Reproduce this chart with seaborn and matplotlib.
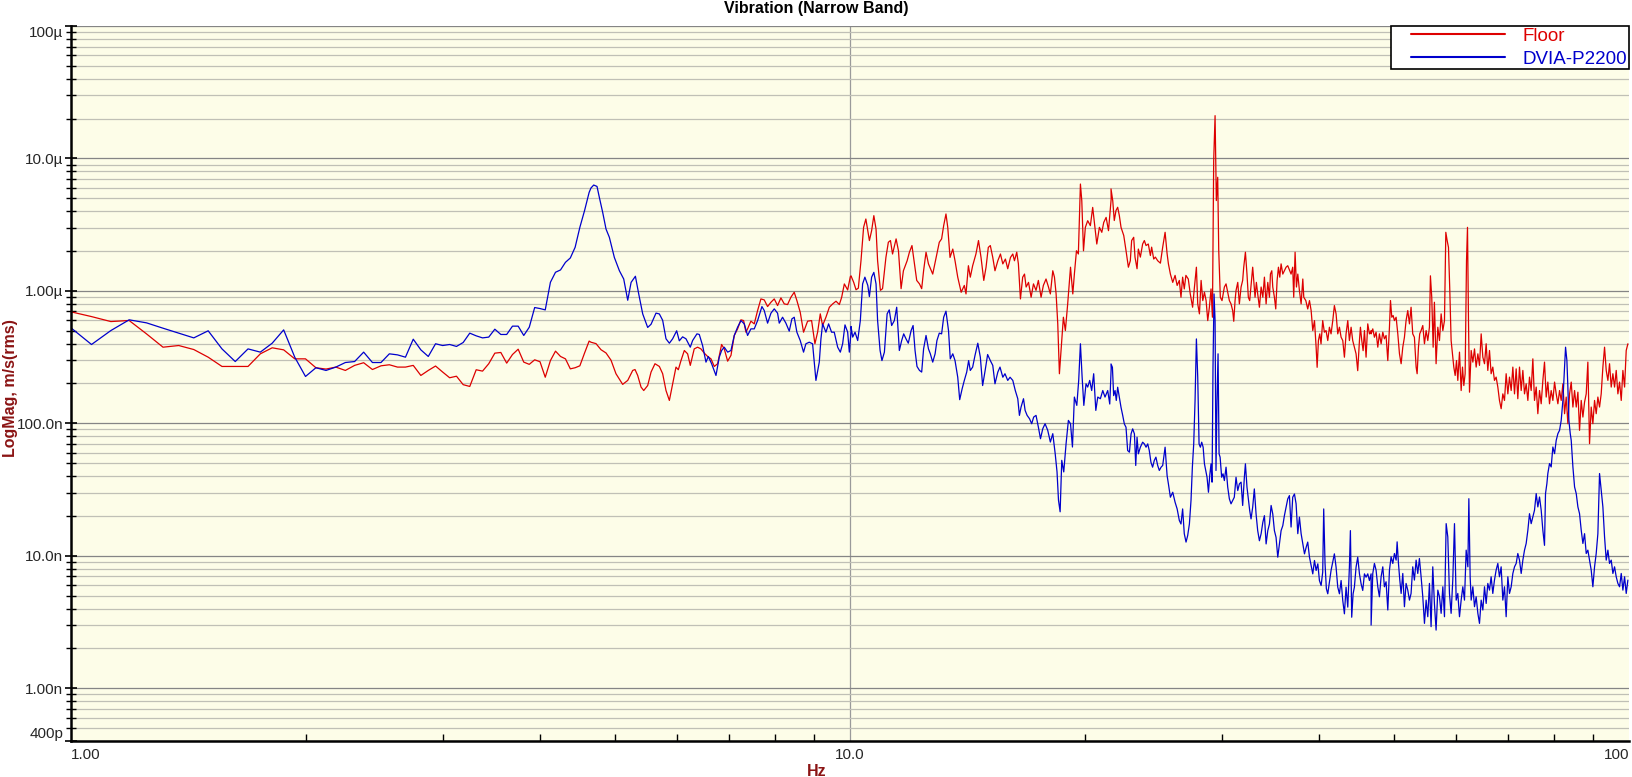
import numpy as np
import pandas as pd
import matplotlib
matplotlib.use('Agg')
import matplotlib.pyplot as plt
import seaborn as sns
from matplotlib.ticker import FixedLocator, LogLocator, NullFormatter
from matplotlib.legend_handler import HandlerLine2D
from matplotlib.lines import Line2D

# values, magnitudes in micro m/s (rms)

# 1 - 4.6 Hz, both traces on the same FFT bins
low_hz = [1.0, 1.0625, 1.125, 1.1875, 1.25, 1.3125, 1.375, 1.4375, 1.5, 1.5625,
          1.625, 1.6875, 1.75, 1.8125, 1.875, 1.9375, 2.0, 2.0625, 2.125, 2.1875,
          2.25, 2.3125, 2.375, 2.4375, 2.5, 2.5625, 2.625, 2.6875, 2.75, 2.8125,
          2.875, 2.9375, 3.0, 3.0625, 3.125, 3.1875, 3.25, 3.3125, 3.375, 3.4375,
          3.5, 3.5625, 3.625, 3.6875, 3.75, 3.8125, 3.875, 3.9375, 4.0, 4.0625,
          4.125, 4.1875, 4.25, 4.3125, 4.375, 4.4375, 4.5, 4.5625, 4.625]
floor_um_low = [0.695, 0.64, 0.587, 0.598, 0.474, 0.376, 0.387, 0.361, 0.316, 0.269,
                0.269, 0.269, 0.335, 0.372, 0.359, 0.307, 0.307, 0.263, 0.257, 0.266,
                0.251, 0.274, 0.287, 0.255, 0.272, 0.277, 0.266, 0.266, 0.274, 0.230,
                0.251, 0.271, 0.244, 0.221, 0.227, 0.196, 0.190, 0.254, 0.248, 0.282,
                0.339, 0.343, 0.285, 0.331, 0.363, 0.290, 0.279, 0.302, 0.292, 0.223,
                0.298, 0.351, 0.320, 0.307, 0.258, 0.263, 0.272, 0.339, 0.418]
dvia_um_low = [0.526, 0.394, 0.502, 0.605, 0.574, 0.523, 0.48, 0.442, 0.50, 0.365,
               0.293, 0.365, 0.345, 0.403, 0.508, 0.316, 0.226, 0.263, 0.251, 0.266,
               0.288, 0.293, 0.345, 0.288, 0.288, 0.335, 0.329, 0.316, 0.432, 0.359,
               0.320, 0.399, 0.387, 0.394, 0.381, 0.408, 0.48, 0.458, 0.442, 0.448,
               0.514, 0.469, 0.469, 0.542, 0.542, 0.461, 0.532, 0.749, 0.736, 0.719,
               1.162, 1.383, 1.44, 1.644, 1.773, 2.134, 3.02, 4.03, 5.54]

# 4.6 - 10 Hz
floor_hz_mid = [4.65, 4.72, 4.79, 4.862, 4.934, 5.007, 5.107, 5.184, 5.261, 5.297,
                5.339, 5.392, 5.435, 5.499, 5.554, 5.619, 5.692, 5.748, 5.805, 5.863,
                5.920, 5.979, 6.020, 6.068, 6.128, 6.188, 6.237, 6.310, 6.373, 6.436,
                6.501, 6.565, 6.630, 6.696, 6.762, 6.842, 6.896, 6.965, 7.034, 7.103,
                7.173, 7.244, 7.302, 7.352, 7.388, 7.461, 7.535, 7.610, 7.685, 7.761,
                7.838, 7.916, 7.994, 8.073, 8.153, 8.234, 8.315, 8.397, 8.480, 8.547,
                8.632, 8.717, 8.822, 8.927, 9.015, 9.087, 9.159, 9.222, 9.313, 9.408,
                9.501, 9.595, 9.690, 9.757, 9.834, 9.931, 10.01]
floor_um_mid = [0.41, 0.40, 0.36, 0.34, 0.30, 0.237, 0.197, 0.211, 0.251, 0.255,
                0.230, 0.188, 0.177, 0.193, 0.244, 0.282, 0.269, 0.237, 0.177, 0.149,
                0.199, 0.266, 0.254, 0.298, 0.355, 0.335, 0.274, 0.365, 0.376, 0.365,
                0.339, 0.32, 0.307, 0.269, 0.282, 0.394, 0.365, 0.295, 0.326, 0.461,
                0.517, 0.605, 0.597, 0.488, 0.517, 0.591, 0.564, 0.711, 0.87, 0.855,
                0.762, 0.821, 0.87, 0.775, 0.886, 0.798, 0.789, 0.896, 0.977, 0.846,
                0.69, 0.488, 0.591, 0.597, 0.399, 0.488, 0.671, 0.548, 0.633, 0.753,
                0.798, 0.836, 0.789, 0.896, 1.129, 1.017, 1.282]
dvia_hz_mid = [4.65, 4.688, 4.734, 4.767, 4.814, 4.862, 4.910, 4.983, 5.058, 5.123,
               5.184, 5.236, 5.303, 5.355, 5.419, 5.499, 5.554, 5.636, 5.692, 5.748,
               5.805, 5.863, 5.920, 5.991, 6.038, 6.097, 6.158, 6.237, 6.280, 6.361,
               6.405, 6.468, 6.533, 6.578, 6.643, 6.729, 6.795, 6.842, 6.896, 6.965,
               7.034, 7.103, 7.173, 7.244, 7.316, 7.388, 7.461, 7.535, 7.610, 7.708,
               7.761, 7.838, 7.916, 7.994, 8.073, 8.113, 8.193, 8.274, 8.356, 8.422,
               8.480, 8.547, 8.632, 8.717, 8.778, 8.865, 8.953, 8.997, 9.042, 9.132,
               9.177, 9.222, 9.313, 9.387, 9.470, 9.545, 9.642, 9.718, 9.785, 9.853,
               9.931, 9.980, 10.03]
dvia_um_mid = [5.98, 6.30, 6.15, 5.08, 3.92, 2.93, 2.54, 1.79, 1.42, 1.23,
               0.85, 1.16, 1.29, 0.95, 0.67, 0.53, 0.56, 0.68, 0.67, 0.60,
               0.435, 0.403, 0.435, 0.50, 0.42, 0.45, 0.435, 0.376, 0.422, 0.474,
               0.469, 0.387, 0.29, 0.32, 0.282, 0.23, 0.316, 0.355, 0.376, 0.345,
               0.355, 0.461, 0.532, 0.597, 0.564, 0.461, 0.517, 0.517, 0.597, 0.762,
               0.711, 0.571, 0.679, 0.732, 0.679, 0.571, 0.633, 0.571, 0.497, 0.615,
               0.633, 0.488, 0.422, 0.345, 0.399, 0.41, 0.399, 0.29, 0.211, 0.29,
               0.435, 0.564, 0.488, 0.564, 0.488, 0.488, 0.376, 0.345, 0.399, 0.554,
               0.488, 0.345, 0.488]

# 10 - 21.6 Hz
floor_hz_up = [10.03, 10.11, 10.18, 10.25, 10.33, 10.41, 10.48, 10.59, 10.66, 10.73,
               10.80, 10.85, 10.94, 11.01, 11.12, 11.20, 11.27, 11.34, 11.46, 11.54,
               11.63, 11.71, 11.84, 11.92, 12.01, 12.10, 12.18, 12.28, 12.36, 12.43,
               12.52, 12.61, 12.77, 12.90, 13.02, 13.11, 13.19, 13.28, 13.35, 13.44,
               13.55, 13.64, 13.75, 13.89, 14.02, 14.09, 14.19, 14.27, 14.37, 14.51,
               14.62, 14.73, 14.85, 14.95, 15.05, 15.14, 15.25, 15.35, 15.48, 15.60,
               15.71, 15.83, 15.94, 16.07, 16.18, 16.26, 16.37, 16.45, 16.55, 16.66,
               16.75, 16.83, 16.95, 17.08, 17.20, 17.33, 17.45, 17.59, 17.71, 17.85,
               17.98, 18.08, 18.21, 18.30, 18.39, 18.48, 18.57, 18.66, 18.79, 18.90,
               19.03, 19.19, 19.32, 19.41, 19.53, 19.64, 19.76, 19.84, 19.94, 20.05,
               20.19, 20.35, 20.49, 20.59, 20.74, 20.90, 21.05, 21.17, 21.32, 21.47,
               21.64]
floor_um_up = [1.30, 1.16, 1.02, 1.05, 1.69, 3.02, 3.49, 2.40, 2.85, 3.70,
               2.93, 1.69, 1.01, 1.04, 1.79, 2.33, 2.40, 1.90, 2.47, 2.01,
               1.04, 1.42, 1.69, 1.96, 2.20, 1.60, 1.20, 1.13, 1.04, 1.42,
               1.96, 1.60, 1.34, 1.79, 2.33, 2.47, 3.11, 3.81, 3.02, 1.79,
               2.07, 1.69, 1.27, 0.977, 1.10, 0.949, 1.55, 1.27, 1.55, 1.90,
               2.40, 1.79, 1.20, 1.51, 2.13, 2.20, 1.79, 1.42, 1.69, 1.90,
               1.60, 1.74, 1.47, 1.79, 1.90, 1.69, 1.96, 1.60, 0.87, 1.27,
               1.34, 1.07, 1.16, 0.896, 1.13, 1.01, 1.20, 0.896, 1.10, 1.23,
               1.07, 0.949, 1.42, 1.27, 0.949, 0.564, 0.237, 0.355, 0.633, 0.502,
               0.798, 1.51, 0.949, 1.34, 2.01, 1.90, 6.41, 4.80, 2.01, 3.02,
               3.39, 3.11, 4.27, 3.29, 2.26, 3.02, 2.77, 3.29, 3.59, 2.85,
               4.94]
dvia_hz_up = [10.03, 10.08, 10.15, 10.23, 10.31, 10.38, 10.45, 10.54, 10.59, 10.66,
              10.73, 10.80, 10.85, 10.93, 10.99, 11.07, 11.16, 11.23, 11.31, 11.40,
              11.48, 11.57, 11.65, 11.72, 11.80, 11.88, 11.98, 12.05, 12.12, 12.19,
              12.28, 12.36, 12.43, 12.52, 12.61, 12.68, 12.77, 12.86, 12.93, 13.02,
              13.11, 13.19, 13.28, 13.38, 13.45, 13.55, 13.64, 13.75, 13.83, 13.93,
              14.02, 14.12, 14.20, 14.27, 14.37, 14.47, 14.59, 14.70, 14.80, 14.91,
              15.02, 15.14, 15.25, 15.35, 15.48, 15.58, 15.71, 15.81, 15.94, 16.05,
              16.18, 16.30, 16.42, 16.50, 16.58, 16.70, 16.78, 16.88, 17.00, 17.11,
              17.21, 17.33, 17.45, 17.56, 17.68, 17.80, 17.94, 18.08, 18.21, 18.34,
              18.44, 18.52, 18.61, 18.70, 18.81, 18.94, 19.07, 19.19, 19.30, 19.41,
              19.55, 19.66, 19.76, 19.86, 19.96, 20.09, 20.19, 20.31, 20.43, 20.55,
              20.68, 20.80, 20.96, 21.11, 21.25, 21.42, 21.55, 21.64]
dvia_um_up = [0.539, 0.448, 0.488, 0.422, 0.597, 1.13, 1.27, 1.10, 0.906, 1.27,
              1.38, 1.13, 0.597, 0.355, 0.298, 0.345, 0.671, 0.719, 0.548, 0.597,
              0.753, 0.355, 0.422, 0.474, 0.435, 0.403, 0.502, 0.548, 0.355, 0.269,
              0.251, 0.244, 0.365, 0.461, 0.365, 0.335, 0.29, 0.335, 0.422, 0.48,
              0.474, 0.633, 0.703, 0.502, 0.307, 0.335, 0.298, 0.223, 0.151, 0.1825,
              0.211, 0.244, 0.298, 0.251, 0.266, 0.326, 0.403, 0.316, 0.193, 0.251,
              0.331, 0.298, 0.274, 0.199, 0.244, 0.266, 0.223, 0.237, 0.211, 0.223,
              0.211, 0.177, 0.1535, 0.1149, 0.1328, 0.1535, 0.1253, 0.1149, 0.1084, 0.0994,
              0.1116, 0.1149, 0.0938, 0.0766, 0.0912, 0.0994, 0.0886, 0.0723, 0.0836, 0.0591,
              0.043, 0.0263, 0.0215, 0.0526, 0.043, 0.0703, 0.1053, 0.0994, 0.0663, 0.158,
              0.1367, 0.211, 0.399, 0.223, 0.1367, 0.199, 0.188, 0.211, 0.177, 0.237,
              0.1253, 0.158, 0.1535, 0.177, 0.158, 0.177, 0.14, 0.26]

# 21.6 - 46.7 Hz
floor_hz_hi = [21.63, 21.74, 21.84, 21.95, 22.06, 22.17, 22.28, 22.46, 22.61, 22.77,
               22.90, 22.99, 23.13, 23.22, 23.36, 23.45, 23.59, 23.75, 23.87, 23.99,
               24.15, 24.30, 24.39, 24.54, 24.66, 24.83, 25.03, 25.20, 25.38, 25.53,
               25.63, 25.78, 25.96, 26.14, 26.30, 26.47, 26.60, 26.73, 26.86, 26.99,
               27.18, 27.34, 27.53, 27.68, 27.84, 27.95, 28.09, 28.23, 28.37, 28.51,
               28.65, 28.79, 28.93, 29.07, 29.19, 29.30, 29.42, 29.53, 29.65, 29.74,
               29.88, 30.03, 30.24, 30.39, 30.54, 30.69, 30.84, 30.99, 31.09, 31.21,
               31.30, 31.46, 31.61, 31.77, 31.92, 32.02, 32.18, 32.33, 32.46, 32.59,
               32.72, 32.88, 32.98, 33.11, 33.24, 33.37, 33.54, 33.71, 33.88, 34.04,
               34.21, 34.38, 34.55, 34.65, 34.79, 34.89, 35.06, 35.20, 35.34, 35.48,
               35.62, 35.76, 35.94, 36.11, 36.29, 36.47, 36.69, 36.83, 37.01, 37.12,
               37.27, 37.42, 37.57, 37.75, 37.94, 38.13, 38.24, 38.47, 38.69, 38.89,
               39.08, 39.27, 39.47, 39.66, 39.78, 39.93, 40.09, 40.24, 40.44, 40.64,
               40.84, 41.05, 41.25, 41.45, 41.66, 41.86, 42.07, 42.28, 42.49, 42.70,
               42.91, 43.12, 43.33, 43.55, 43.76, 43.98, 44.19, 44.41, 44.63, 44.85,
               45.08, 45.21, 45.39, 45.57, 45.75, 45.97, 46.20, 46.43, 46.66]
floor_um_hi = [5.89, 4.81, 3.40, 4.04, 4.28, 3.70, 3.02, 2.62, 2.02, 1.51,
               1.69, 2.40, 2.54, 1.80, 1.47, 2.07, 1.80, 2.26, 2.40, 2.20,
               2.26, 1.85, 2.14, 1.74, 1.80, 1.69, 1.62, 2.14, 2.77, 1.91,
               1.60, 1.34, 1.16, 1.31, 1.10, 1.20, 0.896, 1.27, 1.035, 1.31,
               1.23, 0.949, 0.753, 1.07, 1.51, 0.798, 0.671, 1.20, 0.845, 0.977,
               0.845, 0.597, 0.753, 1.035, 0.633, 9.63, 21.05, 4.81, 7.21, 2.02,
               0.896, 0.845, 1.07, 1.13, 0.977, 0.845, 0.798, 0.711, 0.590, 0.845,
               1.006, 1.16, 0.798, 1.07, 1.20, 1.51, 1.96, 1.34, 0.896, 0.845,
               1.10, 1.51, 1.20, 0.896, 1.16, 0.949, 0.753, 1.07, 0.896, 1.27,
               0.798, 1.16, 0.896, 1.34, 1.42, 1.07, 0.896, 0.731, 1.20, 1.51,
               1.27, 1.60, 1.34, 1.42, 1.51, 1.55, 1.42, 1.34, 1.51, 0.896,
               1.96, 1.07, 1.34, 1.006, 0.798, 1.23, 0.896, 0.845, 0.731, 0.845,
               0.711, 0.502, 0.597, 0.376, 0.265, 0.422, 0.474, 0.398, 0.597, 0.488,
               0.502, 0.422, 0.532, 0.474, 0.597, 0.775, 0.671, 0.474, 0.532, 0.447,
               0.422, 0.316, 0.474, 0.597, 0.422, 0.532, 0.422, 0.376, 0.335, 0.250,
               0.422, 0.532, 0.422, 0.354, 0.502, 0.316, 0.564, 0.474, 0.502]
dvia_hz_hi = [21.63, 21.72, 21.80, 21.89, 21.97, 22.06, 22.17, 22.28, 22.39, 22.50,
              22.61, 22.72, 22.84, 22.95, 23.06, 23.18, 23.27, 23.36, 23.45, 23.59,
              23.75, 23.87, 23.99, 24.11, 24.22, 24.34, 24.46, 24.58, 24.70, 24.83,
              24.95, 25.08, 25.20, 25.38, 25.53, 25.63, 25.78, 25.96, 26.14, 26.30,
              26.47, 26.60, 26.73, 26.86, 27.00, 27.13, 27.27, 27.40, 27.51, 27.62,
              27.73, 27.84, 27.95, 28.06, 28.17, 28.28, 28.40, 28.51, 28.62, 28.73,
              28.85, 28.96, 29.07, 29.16, 29.24, 29.33, 29.42, 29.50, 29.59, 29.68,
              29.77, 29.86, 30.00, 30.12, 30.24, 30.39, 30.54, 30.69, 30.84, 30.99,
              31.14, 31.30, 31.46, 31.61, 31.77, 31.92, 32.08, 32.18, 32.33, 32.46,
              32.59, 32.72, 32.88, 33.04, 33.21, 33.37, 33.54, 33.71, 33.88, 34.04,
              34.21, 34.38, 34.55, 34.72, 34.89, 35.06, 35.23, 35.41, 35.58, 35.76,
              35.94, 36.11, 36.29, 36.47, 36.65, 36.83, 37.01, 37.20, 37.38, 37.57,
              37.75, 37.94, 38.13, 38.32, 38.51, 38.69, 38.89, 39.08, 39.27, 39.47,
              39.66, 39.86, 40.05, 40.25, 40.44, 40.56, 40.72, 40.88, 41.05, 41.25,
              41.45, 41.66, 41.86, 42.07, 42.28, 42.49, 42.70, 42.91, 43.12, 43.33,
              43.55, 43.76, 43.89, 44.06, 44.24, 44.41, 44.63, 44.85, 45.08, 45.30,
              45.52, 45.75, 45.97, 46.20, 46.43, 46.66]
dvia_um_hi = [0.281, 0.265, 0.162, 0.177, 0.149, 0.1875, 0.158, 0.132, 0.115, 0.099,
              0.0935, 0.0624, 0.0606, 0.0833, 0.0909, 0.0833, 0.0481, 0.0786, 0.0589, 0.0661,
              0.0721, 0.070, 0.0661, 0.070, 0.0624, 0.0509, 0.0467, 0.0524, 0.0556, 0.0481,
              0.0441, 0.0467, 0.0481, 0.0661, 0.0404, 0.0349, 0.0277, 0.0302, 0.0254, 0.0226,
              0.0185, 0.0174, 0.0226, 0.0147, 0.0127, 0.0142, 0.0174, 0.0262, 0.0467, 0.070,
              0.1487, 0.434, 0.223, 0.070, 0.0661, 0.0721, 0.0661, 0.0495, 0.0441, 0.0392,
              0.0302, 0.0404, 0.0495, 0.0360, 0.265, 0.949, 0.597, 0.0441, 0.1487, 0.335,
              0.0589, 0.0556, 0.0392, 0.0416, 0.0370, 0.0467, 0.0330, 0.0269, 0.0247, 0.0262,
              0.0277, 0.0392, 0.0311, 0.0349, 0.0360, 0.0240, 0.0392, 0.0495, 0.0330, 0.0269,
              0.0220, 0.0190, 0.0233, 0.0320, 0.0207, 0.0155, 0.0130, 0.0147, 0.0179, 0.0201,
              0.0123, 0.0155, 0.0174, 0.0240, 0.0207, 0.0155, 0.0138, 0.00977, 0.0123, 0.0155,
              0.0169, 0.0201, 0.0233, 0.0269, 0.0285, 0.0165, 0.0277, 0.0293, 0.0247, 0.0147,
              0.0196, 0.0147, 0.0123, 0.01035, 0.0116, 0.0127, 0.00977, 0.00845, 0.00731, 0.00922,
              0.00775, 0.00870, 0.00651, 0.00597, 0.00753, 0.0226, 0.00870, 0.00564, 0.00517, 0.00633,
              0.00775, 0.00896, 0.01035, 0.00821, 0.00580, 0.00517, 0.00651, 0.00460, 0.00365, 0.00580,
              0.00410, 0.00821, 0.0155, 0.00344, 0.00517, 0.00580, 0.00821, 0.00977, 0.00731, 0.00615,
              0.00548, 0.00731, 0.00690, 0.00731, 0.00651, 0.00731]

# 46.7 - 100 Hz
floor_hz_top = [46.66, 46.89, 47.12, 47.35, 47.59, 47.82, 48.06, 48.30, 48.53, 48.77,
                49.02, 49.26, 49.41, 49.60, 49.80, 49.99, 50.24, 50.49, 50.74, 50.99,
                51.24, 51.49, 51.74, 52.00, 52.26, 52.51, 52.77, 53.03, 53.30, 53.46,
                53.67, 53.87, 54.09, 54.36, 54.63, 54.90, 55.17, 55.44, 55.60, 55.82,
                56.05, 56.26, 56.54, 56.83, 57.11, 57.39, 57.68, 57.96, 58.19, 58.42,
                58.65, 58.88, 59.11, 59.34, 59.58, 59.82, 60.06, 60.29, 60.59, 60.89,
                61.13, 61.37, 61.61, 61.86, 62.04, 62.23, 62.41, 62.72, 63.03, 63.34,
                63.65, 63.97, 64.28, 64.60, 64.92, 65.24, 65.56, 65.88, 66.21, 66.53,
                66.86, 67.19, 67.52, 67.86, 68.19, 68.53, 68.87, 69.21, 69.55, 69.90,
                70.24, 70.59, 70.94, 71.29, 71.64, 71.99, 72.35, 72.71, 73.07, 73.43,
                73.79, 74.16, 74.52, 74.89, 75.26, 75.63, 76.01, 76.38, 76.76, 77.14,
                77.52, 77.90, 78.29, 78.67, 79.06, 79.45, 79.85, 80.25, 80.64, 81.04,
                81.44, 81.84, 82.25, 82.66, 83.06, 83.47, 83.89, 84.30, 84.72, 85.14,
                85.56, 85.98, 86.40, 86.83, 87.26, 87.69, 88.12, 88.55, 88.99, 89.43,
                89.87, 90.32, 90.76, 91.21, 91.66, 92.11, 92.57, 93.03, 93.49, 93.95,
                94.41, 94.88, 95.35, 95.82, 96.29, 96.77, 97.25, 97.73, 98.21, 98.70,
                99.18, 99.67]
floor_um_top = [0.474, 0.517, 0.447, 0.488, 0.376, 0.474, 0.399, 0.488, 0.435, 0.461,
                0.298, 0.532, 0.846, 0.633, 0.652, 0.597, 0.633, 0.474, 0.335, 0.282,
                0.376, 0.447, 0.597, 0.711, 0.564, 0.753, 0.474, 0.447, 0.266, 0.237,
                0.376, 0.474, 0.502, 0.548, 0.399, 0.502, 0.422, 0.532, 1.30, 0.896,
                0.376, 0.821, 0.282, 0.532, 0.422, 0.671, 0.502, 0.597, 2.77, 2.40,
                2.13, 1.006, 0.422, 0.335, 0.266, 0.230, 0.298, 0.211, 0.345, 0.177,
                0.266, 0.193, 0.237, 1.69, 3.02, 0.564, 0.172, 0.355, 0.290, 0.365,
                0.266, 0.335, 0.274, 0.474, 0.316, 0.282, 0.399, 0.251, 0.355, 0.237,
                0.266, 0.211, 0.2235, 0.188, 0.149, 0.129, 0.167, 0.149, 0.237, 0.167,
                0.2235, 0.177, 0.266, 0.167, 0.258, 0.1535, 0.266, 0.177, 0.251, 0.167,
                0.199, 0.149, 0.2235, 0.177, 0.307, 0.149, 0.188, 0.1183, 0.177, 0.1406,
                0.211, 0.290, 0.158, 0.205, 0.1406, 0.177, 0.149, 0.205, 0.167, 0.1406,
                0.177, 0.149, 0.199, 0.1183, 0.158, 0.0994, 0.167, 0.205, 0.1328, 0.177,
                0.1328, 0.172, 0.0886, 0.149, 0.1116, 0.1448, 0.167, 0.290, 0.0703, 0.1328,
                0.0994, 0.149, 0.1183, 0.158, 0.1328, 0.167, 0.266, 0.376, 0.251, 0.211,
                0.282, 0.188, 0.237, 0.188, 0.251, 0.167, 0.205, 0.149, 0.251, 0.188,
                0.355, 0.399]
dvia_hz_top = [46.66, 46.89, 47.12, 47.35, 47.59, 47.82, 48.06, 48.30, 48.53, 48.77,
               49.02, 49.26, 49.50, 49.75, 49.99, 50.24, 50.39, 50.59, 50.79, 50.99,
               51.24, 51.49, 51.74, 52.00, 52.26, 52.51, 52.77, 53.03, 53.30, 53.56,
               53.82, 54.09, 54.36, 54.63, 54.90, 55.17, 55.44, 55.71, 55.99, 56.26,
               56.54, 56.83, 57.11, 57.39, 57.68, 57.96, 58.25, 58.53, 58.82, 59.11,
               59.40, 59.70, 60.00, 60.29, 60.59, 60.89, 61.19, 61.49, 61.80, 62.11,
               62.29, 62.53, 62.72, 63.03, 63.34, 63.65, 63.97, 64.28, 64.60, 64.92,
               65.24, 65.56, 65.88, 66.21, 66.53, 66.86, 67.19, 67.52, 67.86, 68.19,
               68.53, 68.87, 69.21, 69.55, 69.90, 70.24, 70.59, 70.94, 71.29, 71.64,
               71.99, 72.35, 72.71, 73.07, 73.43, 73.79, 74.16, 74.52, 74.89, 75.26,
               75.63, 76.01, 76.38, 76.76, 77.14, 77.52, 77.90, 78.13, 78.45, 78.67,
               79.06, 79.45, 79.85, 80.25, 80.64, 81.04, 81.44, 81.84, 82.25, 82.66,
               82.90, 83.23, 83.47, 83.72, 84.06, 84.30, 84.72, 85.14, 85.56, 85.98,
               86.40, 86.83, 87.26, 87.69, 88.12, 88.55, 88.99, 89.43, 89.87, 90.32,
               90.76, 91.21, 91.66, 92.11, 92.57, 93.03, 93.49, 93.95, 94.41, 94.88,
               95.35, 95.82, 96.29, 96.77, 97.25, 97.73, 98.21, 98.70, 99.18, 99.67]
dvia_um_top = [0.00300, 0.00736, 0.00876, 0.00780, 0.00584, 0.00491, 0.00695, 0.00826, 0.00584, 0.00637,
               0.00390, 0.00780, 0.00983, 0.00876, 0.01041, 0.00928, 0.01275, 0.00876, 0.00656, 0.00520,
               0.00736, 0.00413, 0.00619, 0.00551, 0.00463, 0.00520, 0.00826, 0.00656, 0.00928, 0.00736,
               0.00955, 0.00695, 0.00491, 0.00309, 0.00463, 0.00347, 0.00619, 0.00292, 0.00826, 0.00437,
               0.00275, 0.00551, 0.00491, 0.00368, 0.00584, 0.00347, 0.0175, 0.0139, 0.00520, 0.00368,
               0.00656, 0.0175, 0.00463, 0.00520, 0.00347, 0.00463, 0.00584, 0.00463, 0.01104, 0.00826,
               0.0270, 0.00695, 0.00463, 0.00584, 0.00413, 0.00491, 0.00368, 0.00309, 0.00463, 0.00390,
               0.00584, 0.00437, 0.00619, 0.00551, 0.00695, 0.00520, 0.00656, 0.00780, 0.00876, 0.00695,
               0.00826, 0.00463, 0.00584, 0.00347, 0.00695, 0.00520, 0.00584, 0.00736, 0.00826, 0.00876,
               0.01041, 0.00928, 0.00736, 0.00928, 0.01104, 0.0124, 0.0156, 0.0208, 0.0175, 0.0197,
               0.0221, 0.0295, 0.0234, 0.0278, 0.0221, 0.0156, 0.0120, 0.0295, 0.0351, 0.0418,
               0.0497, 0.0469, 0.0663, 0.0591, 0.0744, 0.0836, 0.0886, 0.1053, 0.149, 0.266,
               0.376, 0.298, 0.188, 0.1053, 0.0836, 0.0744, 0.0469, 0.0331, 0.0295, 0.0234,
               0.0208, 0.0156, 0.0124, 0.0147, 0.01041, 0.01104, 0.00928, 0.00780, 0.00584, 0.00826,
               0.01041, 0.0147, 0.0418, 0.0313, 0.0234, 0.0139, 0.00928, 0.01104, 0.00876, 0.00928,
               0.00736, 0.00826, 0.00695, 0.00619, 0.00584, 0.00736, 0.00551, 0.00695, 0.00520, 0.00656]

ytick_vals = [4e-10, 1e-9, 1e-8, 1e-7, 1e-6, 1e-5, 1e-4]
ytick_labels = ['400p', '1.00n', '10.0n', '100.0n', '1.00\u00b5', '10.0\u00b5', '100\u00b5']
xtick_vals = [1, 10, 100]
xtick_labels = ['1.00', '10.0', '100']

RED = '#DD0000'
BLUE = '#0000CC'
LABEL_RED = '#8B1414'


def make_frame(hz_parts, um_parts):
    hz = np.concatenate([np.asarray(p, dtype=float) for p in hz_parts])
    mag = np.concatenate([np.asarray(p, dtype=float) for p in um_parts]) * 1e-6
    return pd.DataFrame({'hz': hz, 'mag': mag})


def main():
    sns.set_style('white')
    plt.rcParams['font.family'] = ['Liberation Sans', 'DejaVu Sans']

    floor = make_frame([low_hz, floor_hz_mid, floor_hz_up, floor_hz_hi, floor_hz_top],
                       [floor_um_low, floor_um_mid, floor_um_up, floor_um_hi, floor_um_top])
    dvia = make_frame([low_hz, dvia_hz_mid, dvia_hz_up, dvia_hz_hi, dvia_hz_top],
                      [dvia_um_low, dvia_um_mid, dvia_um_up, dvia_um_hi, dvia_um_top])

    W, H = 1633, 777
    fig = plt.figure(figsize=(W / 100, H / 100), dpi=100)
    ax = fig.add_axes([71 / W, 36 / H, 1558 / W, 715 / H])
    ax.set_facecolor('#FDFDE8')

    sns.lineplot(data=floor, x='hz', y='mag', color=RED, linewidth=0.9,
                 estimator=None, sort=False, label='Floor', ax=ax)
    sns.lineplot(data=dvia, x='hz', y='mag', color=BLUE, linewidth=0.9,
                 estimator=None, sort=False, label='DVIA-P2200', ax=ax)

    ax.set_xscale('log')
    ax.set_yscale('log')
    ax.set_xlim(1, 100)
    ax.set_ylim(4e-10, 1e-4)

    # grid: every 1..9 per decade horizontally, only 10 Hz vertically
    ax.set_axisbelow(True)
    ax.set_yticks(ytick_vals, ytick_labels)
    ax.yaxis.set_minor_locator(LogLocator(base=10, subs=np.arange(2, 10)))
    ax.yaxis.set_minor_formatter(NullFormatter())
    ylabs = ax.get_yticklabels()
    ylabs[0].set_va('bottom')
    ylabs[-1].set_va('top')
    ax.grid(True, which='major', axis='y', color='#858585', linewidth=0.9)
    ax.grid(True, which='minor', axis='y', color='#C0C0B6', linewidth=0.9)
    ax.axvline(10, color='#9A9A9A', linewidth=0.9, zorder=0.5)

    ax.set_xticks(xtick_vals, xtick_labels)
    ax.xaxis.set_minor_locator(LogLocator(base=10, subs=np.arange(2, 10)))
    ax.xaxis.set_minor_formatter(NullFormatter())
    xlabs = ax.get_xticklabels()
    xlabs[0].set_ha('left')
    xlabs[-1].set_ha('right')

    ax.tick_params(axis='y', which='major', direction='inout', length=9, width=1.2,
                   color='black', labelsize=11, pad=1, left=True)
    ax.tick_params(axis='y', which='minor', direction='inout', length=7, width=1.0,
                   color='black', left=True)
    ax.tick_params(axis='x', which='major', direction='in', length=0, labelsize=11, pad=5)
    ax.tick_params(axis='x', which='minor', direction='in', length=5, width=1.0,
                   color='black', bottom=True)

    for side in ['top', 'right']:
        ax.spines[side].set_visible(False)
    for side in ['left', 'bottom']:
        ax.spines[side].set_color('black')
        ax.spines[side].set_linewidth(1.8)

    ax.set_xlabel('')
    ax.set_ylabel('')

    leg = ax.legend(loc='upper right', bbox_to_anchor=(1.0, 1.0), borderaxespad=0,
                    fontsize=13.5, handlelength=5.95, handletextpad=0.95,
                    borderpad=0.1, labelspacing=0.29, fancybox=False, framealpha=1,
                    edgecolor='black', labelcolor='linecolor',
                    handler_map={Line2D: HandlerLine2D(xpad=0.95)})
    leg.get_frame().set_linewidth(1.2)
    for line in leg.get_lines():
        line.set_linewidth(1.5)

    fig.text(0.5, 1 - 13 / H, 'Vibration (Narrow Band)', ha='center', va='baseline',
             fontsize=11.5, fontweight='bold', color='black')
    fig.text(0.5, 1 - 771 / H, 'Hz', ha='center', va='center',
             fontsize=11.5, fontweight='bold', color=LABEL_RED)
    fig.text(11 / W, 1 - 388 / H, 'LogMag, m/s(rms)', rotation=90, ha='center',
             va='center', fontsize=11.5, fontweight='bold', color=LABEL_RED)

    fig.savefig('out.png', dpi=100)
    plt.close(fig)


if __name__ == '__main__':
    main()
